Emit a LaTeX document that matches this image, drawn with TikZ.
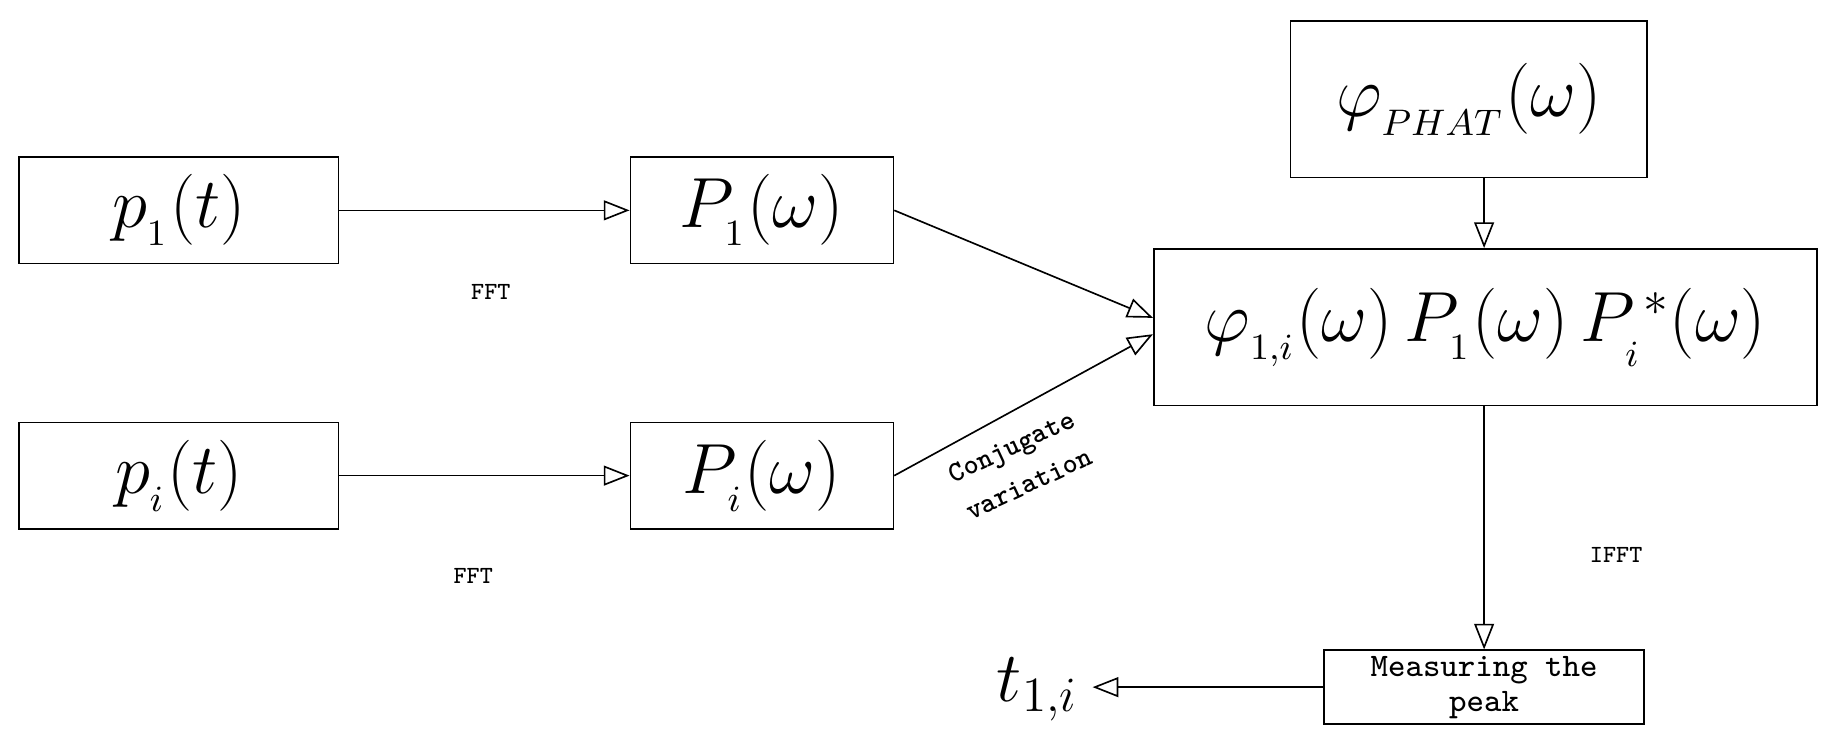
\documentclass[tikz,border=0pt]{standalone}
\usetikzlibrary{arrows.meta,positioning}
\begin{document}
\begin{tikzpicture}[x=0.01cm,y=-0.01cm,
    block/.style={rectangle,draw,thin,inner sep=0pt},
    lbl/.style={font=\ttfamily\fontsize{6}{7}\selectfont},
    big/.style={font=\fontsize{18}{21}\selectfont},
    >={Triangle[open,length=2.2mm,width=1.7mm]},
    ]
    \useasboundingbox (0,0) rectangle (1560,639);

    \node [block, big, minimum width=2.73cm, minimum height=0.91cm] (pone) at (153,180) {$p_{_1}(t)$};
    \node [block, big, minimum width=2.25cm, minimum height=0.91cm] (Pone) at (652,180) {$P_{_1}(\omega)$};
    \node [block, big, minimum width=2.73cm, minimum height=0.91cm] (pi) at (153,407) {$p_{_i}(t)$};
    \node [block, big, minimum width=2.25cm, minimum height=0.91cm] (Pi) at (652,407) {$P_{_i}(\omega)$};
    \node [block, big, minimum width=3.05cm, minimum height=1.34cm] (phat) at (1257,85) {$\varphi_{_{PHAT}}(\omega)$};
    \node [block, big, minimum width=5.67cm, minimum height=1.34cm] (prod) at (1271,280) {$\varphi_{_{1,i}}(\omega)\,P_{_1}(\omega)\,P_{_i}^{\,*}(\omega)$};
    \node [block, minimum width=2.74cm, minimum height=0.63cm, align=center, font=\ttfamily\fontsize{8}{8.5}\selectfont] (peak) at (1270,588) {Measuring the\\peak};
    \node [big, anchor=east] (t) at (935,590) {$t_{1,i}$};

    \draw[->] (pone) -- (Pone);
    \draw[->] (pi) -- (Pi);
    \draw[->] (Pone.east) -- ([yshift=0.08cm]prod.west);
    \draw[->] (Pi.east) -- ([yshift=-0.06cm]prod.west);
    \draw[->] (phat.south -| peak.north) -- (prod.north -| peak.north);
    \draw[->] (prod.south -| peak.north) -- (peak.north);
    \draw[->] (peak.west) -- (peak.west -| t.east);

    \node [lbl] at (420,250) {FFT};
    \node [lbl] at (405,493) {FFT};
    \node [lbl] at (1383,475) {IFFT};
    \node [font=\ttfamily\bfseries\fontsize{7}{10}\selectfont, rotate=25, align=center] at (873,398) {Conjugate\\variation};
\end{tikzpicture}
\end{document}
